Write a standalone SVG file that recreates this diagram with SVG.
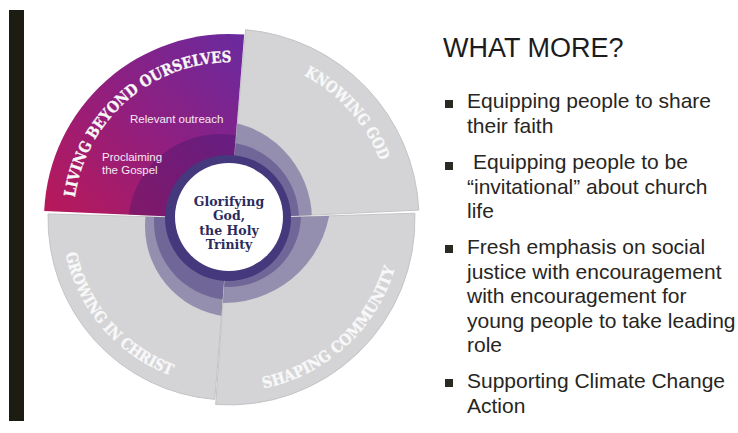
<svg xmlns="http://www.w3.org/2000/svg" width="738" height="433" viewBox="0 0 738 433">
  <style>
    .seg-grey { fill: #d4d4d6; stroke: #c4c4c7; stroke-width: 1; }
    .lav { fill: #3e2f7a; fill-opacity: 0.42; }
    .arc-label { font-family: "DejaVu Serif", "Liberation Serif", serif; font-weight: bold; font-size: 15.5px; fill: #f8f8f8; stroke: #f8f8f8; stroke-width: 0.35; }
    .inner-label { font-family: "Liberation Sans", Arial, sans-serif; font-size: 11.5px; fill: #f5e9f3; }
    .center-label { font-family: "DejaVu Serif", "Liberation Serif", serif; font-weight: bold; font-size: 12.5px; fill: #2b2c5e; text-anchor: middle; }
    .heading { font-family: "Liberation Sans", Arial, sans-serif; font-size: 27px; fill: #1c1c1c; }
    .bullet-text { font-family: "Liberation Sans", Arial, sans-serif; font-size: 21px; fill: #27261f; }
    .bullet { fill: #2a2a22; }
  </style>
  <defs>
    <!-- wheel segments, all arcs around the hub at (229,219) -->
    <path id="p-tl" d="M229 219 L44.2 210.9 A185 185 0 0 1 244.2 34.6 Z"/>
    <path id="p-tr" d="M229 219 L245.6 29.7 A190 190 0 0 1 418.8 210.1 Z"/>
    <path id="p-sc" d="M229 219 L414.9 213.2 A186 186 0 0 1 215.7 404.5 Z"/>
    <path id="p-gc" d="M229 219 L214.8 399.4 A181 181 0 0 1 48.1 213.9 Z"/>
    <clipPath id="clip-tl"><use href="#p-tl"/></clipPath>
    <clipPath id="clip-tr"><use href="#p-tr"/></clipPath>
    <clipPath id="clip-sc"><use href="#p-sc"/></clipPath>
    <clipPath id="clip-gc"><use href="#p-gc"/></clipPath>
    <linearGradient id="grad-living" gradientUnits="userSpaceOnUse" x1="60" y1="215" x2="245" y2="40">
      <stop offset="0" stop-color="#b6195b"/>
      <stop offset="0.5" stop-color="#8f1f80"/>
      <stop offset="1" stop-color="#6a2a9e"/>
    </linearGradient>
    <!-- baselines for the curved segment titles -->
    <path id="arc-living" d="M73.9 206.1 A157 157 0 0 1 240.0 62.4"/>
    <path id="arc-knowing" d="M270.9 62.5 A162 162 0 0 1 389.2 195.1"/>
    <path id="arc-growing" d="M63.6 242.2 A167 167 0 0 0 181.6 379.1"/>
    <path id="arc-shaping" d="M244.1 391.3 A173 173 0 0 0 399.4 249"/>
  </defs>

  <rect id="sidebar" x="9" y="10" width="15" height="411" fill="#1c1c12"/>

  <g id="seg-growing">
    <use href="#p-gc" class="seg-grey"/>
    <g clip-path="url(#clip-gc)">
      <circle class="lav" cx="236" cy="226" r="91"/>
      <circle class="lav" cx="232" cy="222" r="78"/>
    </g>
    <text class="arc-label"><textPath href="#arc-growing" startOffset="50%" text-anchor="middle" textLength="168" lengthAdjust="spacingAndGlyphs">GROWING IN CHRIST</textPath></text>
  </g>

  <g id="seg-knowing">
    <use href="#p-tr" class="seg-grey"/>
    <g clip-path="url(#clip-tr)">
      <circle class="lav" cx="212" cy="220" r="100"/>
      <circle class="lav" cx="222" cy="219" r="77"/>
    </g>
    <text class="arc-label"><textPath href="#arc-knowing" startOffset="50%" text-anchor="middle" textLength="117" lengthAdjust="spacingAndGlyphs">KNOWING GOD</textPath></text>
  </g>

  <g id="seg-shaping">
    <use href="#p-sc" class="seg-grey"/>
    <g clip-path="url(#clip-sc)">
      <circle class="lav" cx="224" cy="196" r="107"/>
      <circle class="lav" cx="229" cy="215" r="72"/>
    </g>
    <text class="arc-label"><textPath href="#arc-shaping" startOffset="50%" text-anchor="middle" textLength="187" lengthAdjust="spacingAndGlyphs">SHAPING COMMUNITY</textPath></text>
  </g>

  <g id="seg-living">
    <use href="#p-tl" fill="url(#grad-living)"/>
    <g clip-path="url(#clip-tl)">
      <circle cx="220" cy="226" r="92" fill="#2a1466" fill-opacity="0.3"/>
    </g>
    <text class="arc-label"><textPath href="#arc-living" startOffset="50%" text-anchor="middle" textLength="226" lengthAdjust="spacingAndGlyphs">LIVING BEYOND OURSELVES</textPath></text>
    <text class="inner-label" x="130" y="123">Relevant outreach</text>
    <text class="inner-label" x="102" y="161">Proclaiming</text>
    <text class="inner-label" x="102" y="174">the Gospel</text>
  </g>

  <g id="hub">
    <circle cx="228" cy="218" r="63" fill="#45387d"/>
    <circle cx="229" cy="217" r="54" fill="#ffffff"/>
    <text class="center-label" x="229" y="206">Glorifying</text>
    <text class="center-label" x="229" y="220">God,</text>
    <text class="center-label" x="229" y="235">the Holy</text>
    <text class="center-label" x="229" y="249">Trinity</text>
  </g>

  <g id="heading">
    <text class="heading" x="443" y="57">WHAT MORE?</text>
  </g>

  <g id="bullets">
    <rect class="bullet" x="445" y="100" width="8" height="8"/>
    <text class="bullet-text" x="467" y="108">Equipping people to share</text>
    <text class="bullet-text" x="467" y="133">their faith</text>

    <rect class="bullet" x="445" y="162" width="8" height="8"/>
    <text class="bullet-text" x="473" y="169">Equipping people to be</text>
    <text class="bullet-text" x="467" y="194">“invitational” about church</text>
    <text class="bullet-text" x="467" y="218">life</text>

    <rect class="bullet" x="445" y="245" width="8" height="8"/>
    <text class="bullet-text" x="467" y="254">Fresh emphasis on social</text>
    <text class="bullet-text" x="467" y="279">justice with encouragement</text>
    <text class="bullet-text" x="467" y="303">with encouragement for</text>
    <text class="bullet-text" x="467" y="328">young people to take leading</text>
    <text class="bullet-text" x="467" y="352">role</text>

    <rect class="bullet" x="445" y="379" width="8" height="8"/>
    <text class="bullet-text" x="467" y="388">Supporting Climate Change</text>
    <text class="bullet-text" x="467" y="413">Action</text>
  </g>
</svg>
